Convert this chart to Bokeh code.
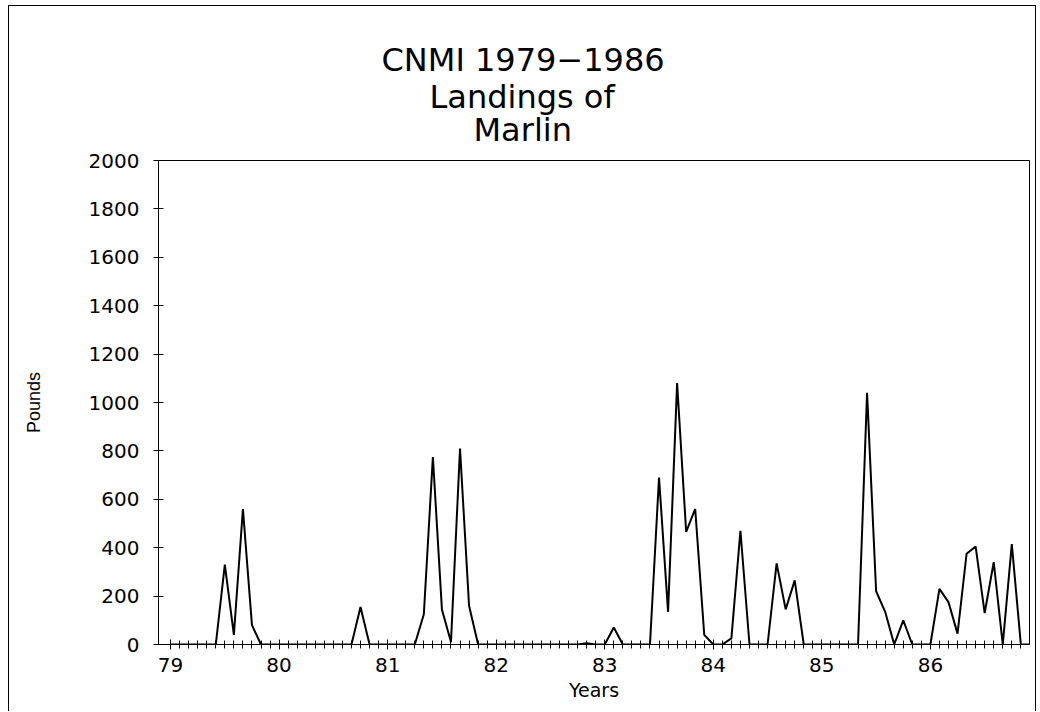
from bokeh.plotting import figure
from bokeh.models import FixedTicker, Title, Range1d
from bokeh.embed import file_html
from bokeh.resources import INLINE

years = [79, 80, 81, 82, 83, 84, 85, 86]
y1979 = [0, 0, 0, 0, 0, 0, 330, 40, 560, 80, 0, 0]
y1980 = [0, 0, 0, 0, 0, 0, 0, 0, 0, 155, 0, 0]
y1981 = [0, 0, 0, 0, 125, 775, 145, 10, 810, 160, 0, 0]
y1982 = [0, 0, 0, 0, 0, 0, 0, 0, 0, 0, 5, 0]
y1983 = [0, 70, 0, 0, 0, 0, 690, 135, 1080, 465, 560, 40]
y1984 = [0, 0, 25, 470, 0, 0, 0, 335, 145, 265, 0, 0]
y1985 = [0, 0, 0, 0, 0, 1040, 220, 135, 0, 100, 0, 0]
y1986 = [0, 230, 175, 45, 375, 405, 130, 340, 0, 415, 0, 0]
y_ticks = [0, 200, 400, 600, 800, 1000, 1200, 1400, 1600, 1800, 2000]
title_lines = ["CNMI 1979\u22121986", "Landings of", "Marlin"]

series = [y1979, y1980, y1981, y1982, y1983, y1984, y1985, y1986]
xs, ys = [], []
for yr, vals in zip(years, series):
    for m, v in enumerate(vals):
        xs.append(yr + m / 12.0)
        ys.append(v)

FONT = "DejaVu Sans"

p = figure(width=1028, height=706, output_backend="svg", toolbar_location=None,
           x_range=Range1d(78.889, 86.913), y_range=Range1d(0, 2000),
           min_border_left=149, min_border_top=154, min_border_right=8, min_border_bottom=68)
p.styles = {"border": "1px solid black", "border-bottom": "none",
            "margin-left": "8px", "margin-top": "5px"}
p.grid.visible = False
p.outline_line_color = "black"
p.outline_line_width = 1

p.line(xs, ys, line_color="black", line_width=2)

minor = [yr + m / 12.0 for yr in years for m in range(12)]
p.xaxis.ticker = FixedTicker(ticks=years, minor_ticks=minor)
p.xaxis.major_label_overrides = {y: str(y) for y in years}
p.yaxis.ticker = FixedTicker(ticks=y_ticks)

for ax in (p.xaxis[0], p.yaxis[0]):
    ax.axis_line_color = "black"
    ax.axis_line_width = 1
    ax.major_tick_line_color = "black"
    ax.minor_tick_line_color = "black"
    ax.major_tick_in = 5
    ax.major_tick_out = 5
    ax.major_label_text_font = FONT
    ax.major_label_text_font_size = "20px"
    ax.major_label_text_color = "black"
    ax.axis_label_text_font_style = "normal"
    ax.axis_label_text_color = "black"

p.xaxis.minor_tick_in = 4
p.xaxis.minor_tick_out = 4
p.yaxis.minor_tick_line_color = None
p.xaxis.major_label_standoff = 8
p.yaxis.major_label_standoff = 14

p.xaxis.axis_label = "Years"
p.xaxis.axis_label_text_font = FONT
p.xaxis.axis_label_text_font_size = "19px"
p.xaxis.axis_label_standoff = 4

p.yaxis.axis_label = "Pounds"
p.yaxis.axis_label_text_font = "Liberation Sans"
p.yaxis.axis_label_text_font_size = "18px"
p.yaxis.axis_label_standoff = 42

# three title lines, nearest to the frame added first
offsets = {"Marlin": 315, "Landings of": 271, "CNMI 1979\u22121986": 223}
standoffs = {"Marlin": 23, "Landings of": -36, "CNMI 1979\u22121986": 30}
for t in reversed(title_lines):
    p.add_layout(Title(text=t, align="left", text_font=FONT, text_font_size="32px",
                       text_font_style="normal", text_color="black",
                       standoff=standoffs[t], offset=offsets[t]), "above")

open("out.html", "w").write(file_html(p, INLINE))
